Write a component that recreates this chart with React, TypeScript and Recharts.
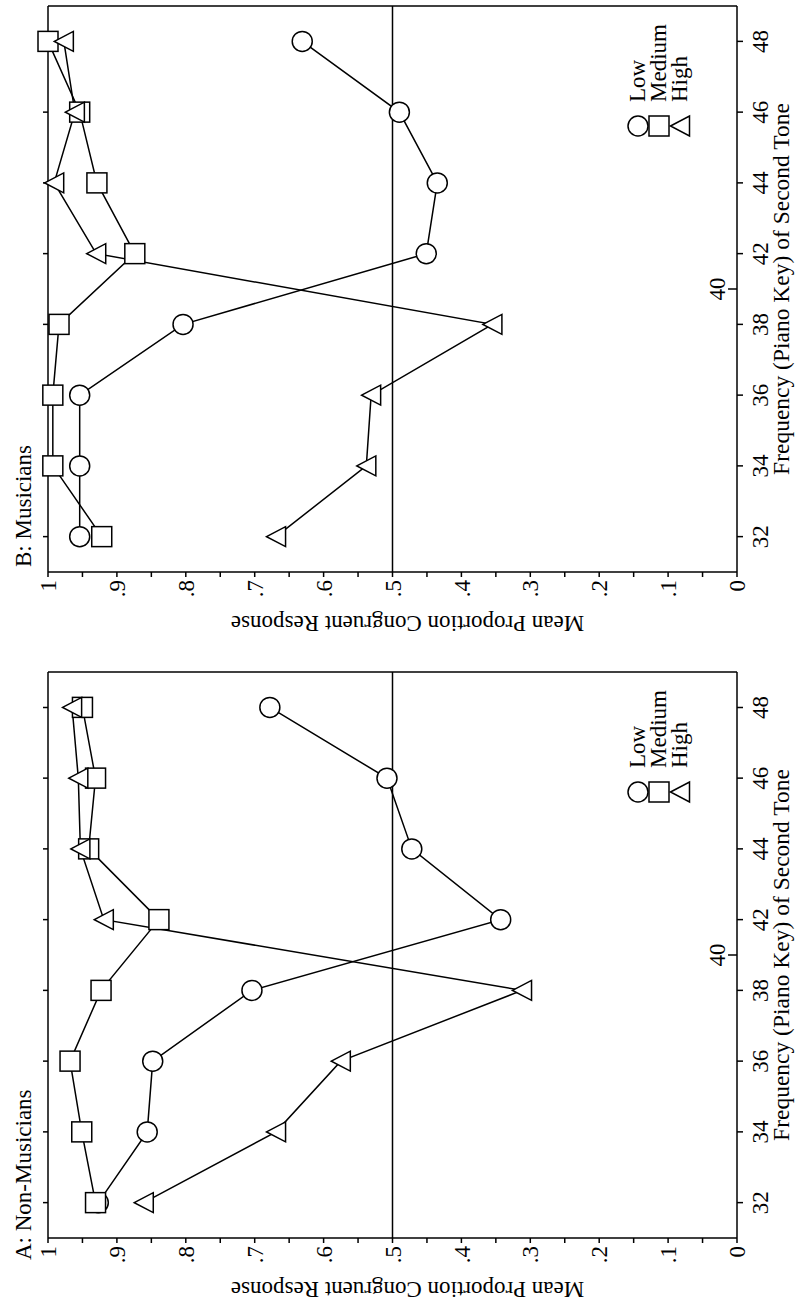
import React from 'react';
import { LineChart, Line, XAxis, YAxis, ReferenceLine, Legend } from 'recharts';

// piano keys of the second tone (40 is only a marker between 38 and 42)
const pianoKeys = [32, 34, 36, 38, 42, 44, 46, 48];
const gapKeyLabel = '40';
const keyPositions = [0, 1, 2, 3, 4, 5, 6, 7];
const gapPosition = 3.5;
const gapTickLength = 0.013; // inward tick, in proportion units
const yTicks = [0, 0.05, 0.1, 0.15, 0.2, 0.25, 0.3, 0.35, 0.4, 0.45, 0.5, 0.55, 0.6, 0.65, 0.7, 0.75, 0.8, 0.85, 0.9, 0.95, 1];
const seriesNames = ['Low', 'Medium', 'High'];

// A: Non-Musicians
const nonMusLow = [0.927, 0.856, 0.848, 0.704, 0.343, 0.472, 0.508, 0.678];
const nonMusMedium = [0.931, 0.951, 0.968, 0.923, 0.839, 0.941, 0.931, 0.95];
const nonMusHigh = [0.861, 0.669, 0.575, 0.312, 0.919, 0.953, 0.956, 0.965];

// B: Musicians
const musLow = [0.954, 0.954, 0.954, 0.804, 0.451, 0.435, 0.49, 0.631];
const musMedium = [0.922, 0.993, 0.993, 0.984, 0.874, 0.929, 0.954, 1.0];
const musHigh = [0.669, 0.538, 0.531, 0.355, 0.93, 0.991, 0.961, 0.977];

const FONT = '"Liberation Serif", "Times New Roman", serif';
const INK = '#000';
const SW = 1.5;

const buildRows = (low: number[], medium: number[], high: number[]) =>
  pianoKeys.map((k, i) => ({ key: k, pos: keyPositions[i], low: low[i], medium: medium[i], high: high[i] }));

const shapeOf: Record<string, string> = { Low: 'circle', Medium: 'square', High: 'triangle' };

function Marker({ cx, cy, shape }: { cx: number; cy: number; shape: string }) {
  if (cx == null || cy == null) return null;
  if (shape === 'circle') {
    return <circle cx={cx} cy={cy} r={10} fill="#fff" stroke={INK} strokeWidth={SW} />;
  }
  if (shape === 'square') {
    return <rect x={cx - 10} y={cy - 10} width={20} height={20} fill="#fff" stroke={INK} strokeWidth={SW} />;
  }
  return (
    <polygon
      points={`${cx},${cy - 9.5} ${cx + 10},${cy + 9.5} ${cx - 10},${cy + 9.5}`}
      fill="#fff"
      stroke={INK}
      strokeWidth={SW}
    />
  );
}

const dotFor = (shape: string) => (props: any) => (
  <Marker key={`${shape}-${props.index}`} cx={props.cx} cy={props.cy} shape={shape} />
);

const yLabel = (v: number) => {
  const r = Math.round(v * 100);
  if (r % 10 !== 0) return '';
  if (r === 100) return '1';
  if (r === 0) return '0';
  return '.' + r / 10;
};

const tickStyle = { fill: INK, fontSize: 23, fontFamily: FONT };

function LegendContent({ payload }: any) {
  const items = [...(payload || [])].sort(
    (a: any, b: any) => seriesNames.indexOf(a.value) - seriesNames.indexOf(b.value)
  );
  return (
    <svg width={140} height={70} style={{ overflow: 'visible' }}>
      {items.map((e: any, i: number) => (
        <g key={e.value}>
          <Marker cx={16} cy={18 + 21 * i} shape={shapeOf[e.value]} />
          <text x={40} y={25 + 21 * i} fill={INK} fontSize={23} fontFamily={FONT}>
            {e.value}
          </text>
        </g>
      ))}
    </svg>
  );
}

function YTitle({ viewBox }: any) {
  const x = viewBox.x + 19;
  const y = viewBox.y + viewBox.height / 2 + 15;
  return (
    <text
      x={x}
      y={y}
      transform={`rotate(-90, ${x}, ${y})`}
      textAnchor="middle"
      dominantBaseline="central"
      fill={INK}
      fontSize={23}
      fontFamily={FONT}
    >
      Mean Proportion Congruent Response
    </text>
  );
}

function Panel({ rows }: { rows: any[] }) {
  return (
    <LineChart width={642} height={797} data={rows} margin={{ top: 42, right: 0, bottom: 0, left: 0 }}>
      <XAxis
        xAxisId="freq"
        type="number"
        dataKey="pos"
        domain={[-0.5, 7.5]}
        ticks={keyPositions}
        interval={0}
        height={60}
        tickSize={6}
        tickMargin={9}
        axisLine={{ stroke: INK, strokeWidth: SW }}
        tickLine={{ stroke: INK, strokeWidth: SW }}
        tickFormatter={(i: number) => String(pianoKeys[i])}
        tick={tickStyle}
        label={{
          value: 'Frequency (Piano Key) of Second Tone',
          position: 'insideBottom',
          offset: 8,
          fill: INK,
          fontSize: 23.5,
          fontFamily: FONT,
        }}
      />
      <XAxis
        xAxisId="top"
        orientation="top"
        type="number"
        dataKey="pos"
        domain={[-0.5, 7.5]}
        ticks={keyPositions}
        interval={0}
        height={6}
        tickSize={5}
        axisLine={{ stroke: INK, strokeWidth: SW }}
        tickLine={{ stroke: INK, strokeWidth: SW }}
        tickFormatter={() => ''}
      />
      <YAxis
        type="number"
        domain={[0, 1]}
        ticks={yTicks}
        interval={0}
        width={70}
        tickSize={5}
        tickMargin={3}
        axisLine={{ stroke: INK, strokeWidth: SW }}
        tickLine={{ stroke: INK, strokeWidth: SW }}
        tickFormatter={yLabel}
        tick={tickStyle}
        label={{ content: YTitle }}
      />
      <YAxis
        yAxisId="right"
        orientation="right"
        type="number"
        domain={[0, 1]}
        ticks={yTicks}
        interval={0}
        width={6}
        tickSize={5}
        axisLine={{ stroke: INK, strokeWidth: SW }}
        tickLine={{ stroke: INK, strokeWidth: SW }}
        tickFormatter={() => ''}
      />
      <ReferenceLine xAxisId="freq" y={0.5} stroke={INK} strokeWidth={SW} />
      <ReferenceLine
        xAxisId="freq"
        segment={[
          { x: gapPosition, y: 0 },
          { x: gapPosition, y: gapTickLength },
        ]}
        stroke={INK}
        strokeWidth={SW}
        label={{ value: gapKeyLabel, position: 'top', offset: 3, fill: INK, fontSize: 23, fontFamily: FONT }}
      />
      <Line xAxisId="freq" type="linear" dataKey="low" name={seriesNames[0]} stroke={INK} strokeWidth={SW}
        dot={dotFor('circle')} activeDot={false} isAnimationActive={false} />
      <Line xAxisId="freq" type="linear" dataKey="medium" name={seriesNames[1]} stroke={INK} strokeWidth={SW}
        dot={dotFor('square')} activeDot={false} isAnimationActive={false} />
      <Line xAxisId="freq" type="linear" dataKey="high" name={seriesNames[2]} stroke={INK} strokeWidth={SW}
        dot={dotFor('triangle')} activeDot={false} isAnimationActive={false} />
      <Legend
        layout="vertical"
        verticalAlign="middle"
        align="center"
        content={LegendContent}
        wrapperStyle={{ position: 'absolute', left: 500, top: 620, width: 140, height: 70 }}
      />
    </LineChart>
  );
}

export default function App() {
  return (
    <div style={{ position: 'absolute', left: 0, top: 0, width: 797, height: 1308, overflow: 'hidden', background: '#fff' }}>
      <div
        style={{
          position: 'absolute',
          left: 0,
          top: 0,
          width: 1308,
          height: 797,
          transformOrigin: '0 0',
          transform: 'translate(0px, 1308px) rotate(-90deg)',
        }}
      >
        <div style={{ position: 'absolute', left: 0, top: 0 }}>
          <Panel rows={buildRows(nonMusLow, nonMusMedium, nonMusHigh)} />
        </div>
        <div style={{ position: 'absolute', left: 666, top: 0 }}>
          <Panel rows={buildRows(musLow, musMedium, musHigh)} />
        </div>
        <svg width={1308} height={797} style={{ position: 'absolute', left: 0, top: 0, pointerEvents: 'none' }}>
          <text x={48} y={31} fill={INK} fontSize={23} fontFamily={FONT}>A: Non-Musicians</text>
          <text x={741} y={31} fill={INK} fontSize={23} fontFamily={FONT}>B: Musicians</text>
        </svg>
      </div>
    </div>
  );
}
